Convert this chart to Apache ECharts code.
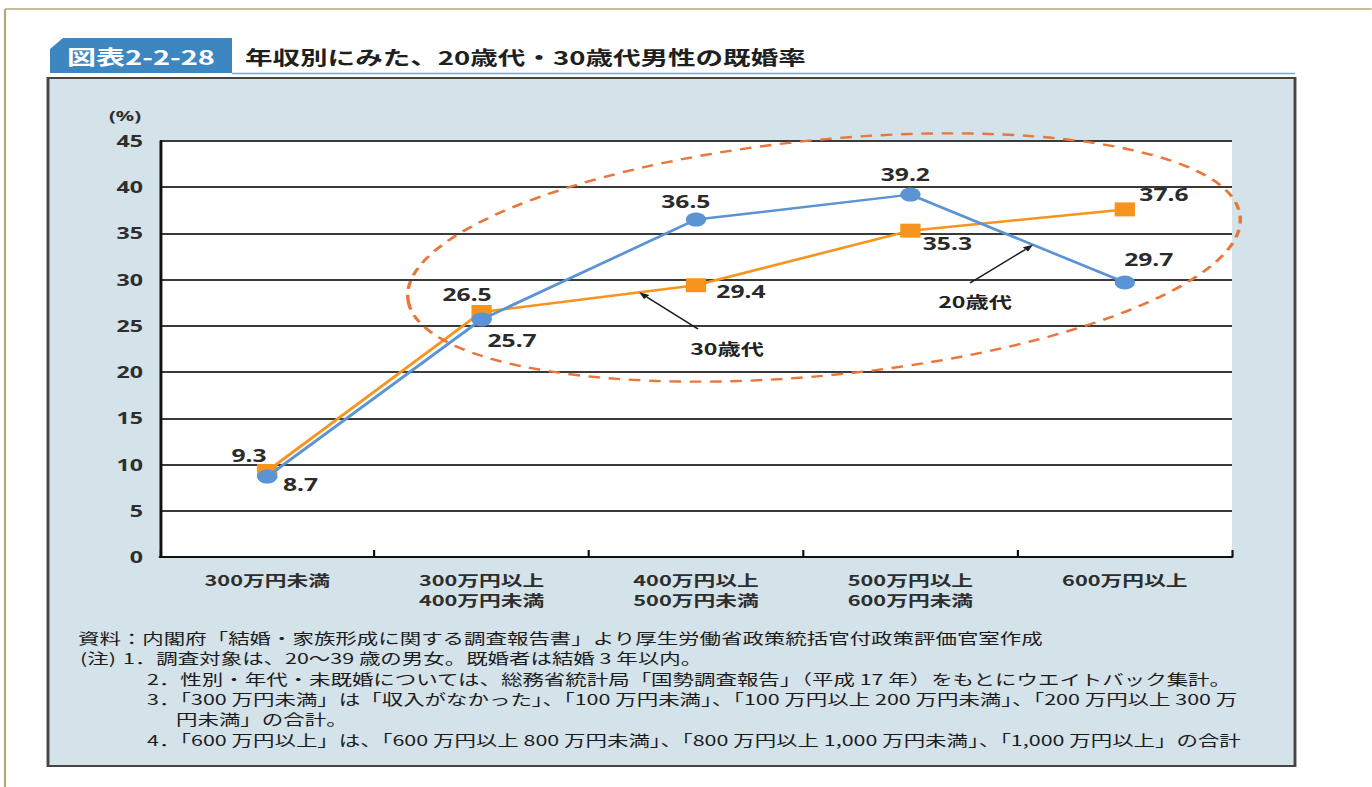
<!DOCTYPE html>
<html>
<head>
<meta charset="utf-8">
<script src="https://cdn.jsdelivr.net/npm/echarts@6/dist/echarts.min.js"></script>
<style>
  html, body { margin: 0; padding: 0; background: #ffffff; overflow: hidden; }
  #wrap { width: 1372px; height: 787px; overflow: hidden; position: relative; }
  /* the figure is laid out narrow and widened horizontally */
  #main { width: 946.2px; height: 787px; transform: scaleX(1.45); transform-origin: 0 0; }
</style>
</head>
<body>
<div id="wrap"><div id="main"></div></div>
<script>
// ---- data ----
const categories = [
  '300万円未満',
  '300万円以上\n400万円未満',
  '400万円以上\n500万円未満',
  '500万円以上\n600万円未満',
  '600万円以上'
];
const age20s = [8.7, 25.7, 36.5, 39.2, 29.7];   // 20歳代
const age30s = [9.3, 26.5, 29.4, 35.3, 37.6];   // 30歳代
const seriesNames = ['20歳代', '30歳代'];
const yMin = 0, yMax = 45, yStep = 5;
const unitLabel = '(%)';
const figureTag = '図表2-2-28';
const figureTitle = '年収別にみた、20歳代・30歳代男性の既婚率';
const noteLines = [
  '資料：内閣府「結婚・家族形成に関する調査報告書」より厚生労働省政策統括官付政策評価官室作成',
  '(注)',
  '1．調査対象は、20～39 歳の男女。既婚者は結婚 3 年以内。',
  '2．性別・年代・未既婚については、総務省統計局「国勢調査報告」（平成 17 年）をもとにウエイトバック集計。',
  '3．「300 万円未満」は「収入がなかった」、「100 万円未満」、「100 万円以上 200 万円未満」、「200 万円以上 300 万',
  '円未満」の合計。',
  '4．「600 万円以上」は、「600 万円以上 800 万円未満」、「800 万円以上 1,000 万円未満」、「1,000 万円以上」の合計'
];

// ---- layout ----
const S = 1.45;                 // horizontal widening applied by CSS
const X = v => v / S;           // page x -> chart x
const JP = '"Noto Sans CJK JP", "Noto Sans", sans-serif';
const NUM = '"Noto Sans", "Noto Sans CJK JP", sans-serif';
const BLUE = '#5a94d4';
const ORANGE = '#f7941e';

// label offsets around each marker (chart px)
const blueLabelOffsets = [[23, 8], [21, 21], [-7, -18], [-3.5, -20], [16.5, -23]];
const orangeLabelOffsets = [[-12.5, -16], [-10, -18], [31, 6], [25.5, 13], [27, -15]];

function withLabels(values, offsets) {
  return values.map((v, i) => ({
    value: v,
    label: { offset: offsets[i] }
  }));
}

const labelStyle = {
  show: true,
  position: 'inside',
  color: '#2b2b2b',
  fontFamily: NUM,
  fontWeight: 'bold',
  fontSize: 17,
  textBorderWidth: 0,
  textBorderColor: 'transparent',
  formatter: p => p.value.toFixed(1)
};

const chart = echarts.init(document.getElementById('main'), null, { renderer: 'svg' });

const option = {
  animation: false,
  backgroundColor: 'transparent',
  grid: {
    left: X(160), top: 141, width: X(1232 - 160), height: 416,
    show: true, backgroundColor: '#ffffff', borderWidth: 0
  },
  xAxis: {
    type: 'category',
    data: categories,
    boundaryGap: true,
    axisLine: { show: true, lineStyle: { color: '#111', width: 2 } },
    axisTick: { show: true, inside: true, length: 7, lineStyle: { color: '#111', width: 1.5 } },
    axisLabel: {
      interval: 0, margin: 12, color: '#2e2e2e', fontFamily: JP,
      fontWeight: 'bold', fontSize: 15, lineHeight: 20
    },
    splitLine: { show: false }
  },
  yAxis: {
    type: 'value',
    min: yMin, max: yMax, interval: yStep,
    axisLine: { show: true, lineStyle: { color: '#111', width: 2 } },
    axisTick: { show: false },
    axisLabel: { margin: X(17), color: '#2e2e2e', fontFamily: NUM, fontWeight: 'bold', fontSize: 16 },
    splitLine: { show: true, lineStyle: { color: '#3a3a3a', width: 2 } }
  },
  series: [
    {
      name: seriesNames[1],
      type: 'line',
      data: withLabels(age30s, orangeLabelOffsets),
      symbol: 'rect', symbolSize: 14,
      itemStyle: { color: ORANGE },
      lineStyle: { color: ORANGE, width: 2.5 },
      label: labelStyle,
      z: 3
    },
    {
      name: seriesNames[0],
      type: 'line',
      data: withLabels(age20s, blueLabelOffsets),
      symbol: 'circle', symbolSize: 14,
      itemStyle: { color: BLUE },
      lineStyle: { color: BLUE, width: 2.5 },
      label: labelStyle,
      z: 4
    }
  ]
};

chart.setOption(option);

// ---- annotations and frame ----
function lerp(a, b, t) { return [a[0] + (b[0] - a[0]) * t, a[1] + (b[1] - a[1]) * t]; }
const pt = (s, i, v) => chart.convertToPixel({ seriesIndex: s }, [i, v]);
// pointer tips sit on the plotted lines
const tip30 = lerp(pt(0, 1, age30s[1]), pt(0, 2, age30s[2]), 0.735);
const tip20 = lerp(pt(1, 3, age20s[3]), pt(1, 4, age20s[4]), 0.572);

function pointer(from, to) {
  const dx = to[0] - from[0], dy = to[1] - from[1];
  const len = Math.hypot(dx, dy), ux = dx / len, uy = dy / len;
  const L = 7, W = 2.8;
  const bx = to[0] - ux * L, by = to[1] - uy * L;
  return [
    { type: 'line', z: 60, shape: { x1: from[0], y1: from[1], x2: bx, y2: by },
      style: { stroke: '#1e1e1e', lineWidth: 1.3 } },
    { type: 'polygon', z: 60, shape: { points: [to, [bx - uy * W, by + ux * W], [bx + uy * W, by - ux * W]] },
      style: { fill: '#1e1e1e' } }
  ];
}

const noteLayout = [[78, 638], [80, 658], [123, 658], [147, 679], [147, 699], [176, 719], [147, 740]];

const graphic = [
  // outer frame
  { type: 'line', z: -20, shape: { x1: X(5), y1: 9, x2: X(1372), y2: 9 }, style: { stroke: '#b1a978', lineWidth: 1.5 } },
  { type: 'line', z: -20, shape: { x1: X(5), y1: 9, x2: X(5), y2: 787 }, style: { stroke: '#b1a978', lineWidth: 1.5 } },
  // panel
  { type: 'rect', z: -10, shape: { x: X(48), y: 78, width: X(1295 - 48), height: 766 - 78 },
    style: { fill: '#d4e2ea', stroke: '#454545', lineWidth: 2 } },
  // heading tab and rule
  { type: 'polygon', z: 10, shape: { points: [[X(50), 49], [X(63), 38], [X(232), 38], [X(232), 73], [X(50), 73]] },
    style: { fill: '#3e86c0' } },
  { type: 'line', z: 10, shape: { x1: X(232), y1: 73.5, x2: X(1295), y2: 73.5 }, style: { stroke: '#74a9d4', lineWidth: 1.5 } },
  { type: 'text', z: 11, x: X(141), y: 56,
    style: { text: figureTag, fill: '#ffffff', fontFamily: JP, fontWeight: 'bold', fontSize: 20, align: 'center', verticalAlign: 'middle' } },
  { type: 'text', z: 11, x: X(245), y: 57,
    style: { text: figureTitle, fill: '#1f1f1f', fontFamily: JP, fontWeight: 'bold', fontSize: 19, align: 'left', verticalAlign: 'middle' } },
  // unit
  { type: 'text', z: 11, x: X(125), y: 115,
    style: { text: unitLabel, fill: '#2e2e2e', fontFamily: NUM, fontWeight: 'bold', fontSize: 14, align: 'center', verticalAlign: 'middle' } },
  // highlight ellipse
  { type: 'ellipse', z: 50, x: X(824), y: 257.5, rotation: 9 * Math.PI / 180,
    shape: { cx: 0, cy: 0, rx: 290, ry: 117 },
    style: { fill: 'none', stroke: '#e9773c', lineWidth: 2.4, lineDash: [8, 6] } },
  // series captions
  { type: 'text', z: 60, x: X(727), y: 348,
    style: { text: seriesNames[1], fill: '#222', fontFamily: JP, fontWeight: 'bold', fontSize: 16, align: 'center', verticalAlign: 'middle' } },
  { type: 'text', z: 60, x: X(975), y: 301,
    style: { text: seriesNames[0], fill: '#222', fontFamily: JP, fontWeight: 'bold', fontSize: 16, align: 'center', verticalAlign: 'middle' } },
  ...pointer([X(698), 329], tip30),
  ...pointer([X(970), 283], tip20)
];

noteLines.forEach((t, i) => {
  graphic.push({
    type: 'text', z: 11, x: X(noteLayout[i][0]), y: noteLayout[i][1],
    style: { text: t, fill: '#1c1c1c', fontFamily: JP, fontSize: 14.8, align: 'left', verticalAlign: 'middle' }
  });
});

chart.setOption({ graphic: graphic });
</script>
</body>
</html>
